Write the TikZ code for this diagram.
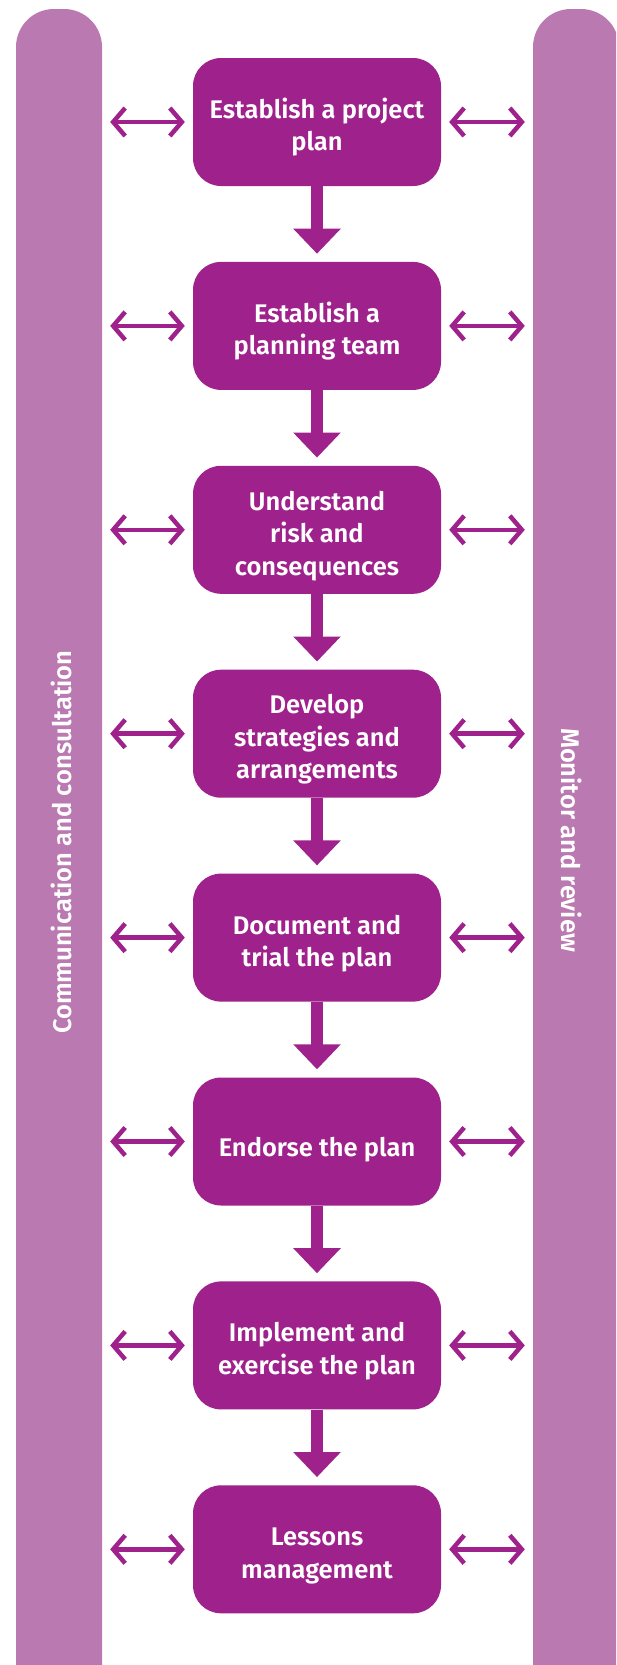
\documentclass[tikz,border=0pt]{standalone}
\usepackage{fontspec}
\setmainfont{Fira Sans}[BoldFont={Fira Sans SemiBold}]
\usetikzlibrary{arrows.meta}
\definecolor{boxc}{HTML}{9F218B}
\definecolor{barc}{HTML}{BA79B1}
\newcommand\upstrut[1][31pt]{\rule{0pt}{#1}}
\tikzset{
  x=1pt, y=-1pt,
  stage/.style={fill=boxc, rounded corners=28pt, minimum width=248pt, minimum height=128pt,
    text=white, font=\fontsize{25.5}{32.5}\selectfont\bfseries, align=center, inner sep=0pt},
  sidebar/.style={fill=barc, rounded corners=38pt, minimum width=86pt, minimum height=1702pt, inner sep=0pt},
  barlabel/.style={text=white, font=\fontsize{25.5}{30}\selectfont\bfseries},
  side/.style={draw=boxc, line width=4.5pt, shorten <=8pt, shorten >=8pt,
    {Straight Barb[length=12pt,width=28pt]}-{Straight Barb[length=12pt,width=28pt]}},
  down/.style={draw=boxc, line width=12pt, shorten >=8pt, -{Triangle[width=46pt,length=25pt]}}
}
\begin{document}
\begin{tikzpicture}
\useasboundingbox (0,0) rectangle (616,1665);
\clip (0,0) rectangle (616,1665);
\node[sidebar] (L) at (59,860) {};
\node[sidebar] (R) at (576,860) {};
\node[barlabel, rotate=90] (Lt) at (61,842) {Communication and consultation};
\node[barlabel, rotate=-90] (Rt) at (572,840) {Monitor and review};
\node[stage] (b0) at (317,122.0) {\upstrut Establish a project\\plan};
\node[stage] (b1) at (317,325.9) {\upstrut Establish a\\planning team};
\node[stage] (b2) at (317,529.8) {\upstrut Understand\\risk and\\consequences};
\node[stage] (b3) at (317,733.7) {\upstrut Develop\\strategies and\\arrangements};
\node[stage] (b4) at (317,937.6) {\upstrut Document and\\trial the plan};
\node[stage] (b5) at (317,1141.5) {\upstrut[35pt]Endorse the plan};
\node[stage] (b6) at (317,1345.4) {\upstrut Implement and\\exercise the plan};
\node[stage] (b7) at (317,1549.3) {\upstrut Lessons\\management};
\foreach \a/\b in {b0/b1,b1/b2,b2/b3,b3/b4,b4/b5,b5/b6,b6/b7}
  \draw[down] (\a.south) -- (\b.north);
\foreach \n in {b0,b1,b2,b3,b4,b5,b6,b7}{
  \draw[side] (L.east |- \n.center) -- (\n.west);
  \draw[side] (\n.east) -- (R.west |- \n.center);
}
\end{tikzpicture}
\end{document}
